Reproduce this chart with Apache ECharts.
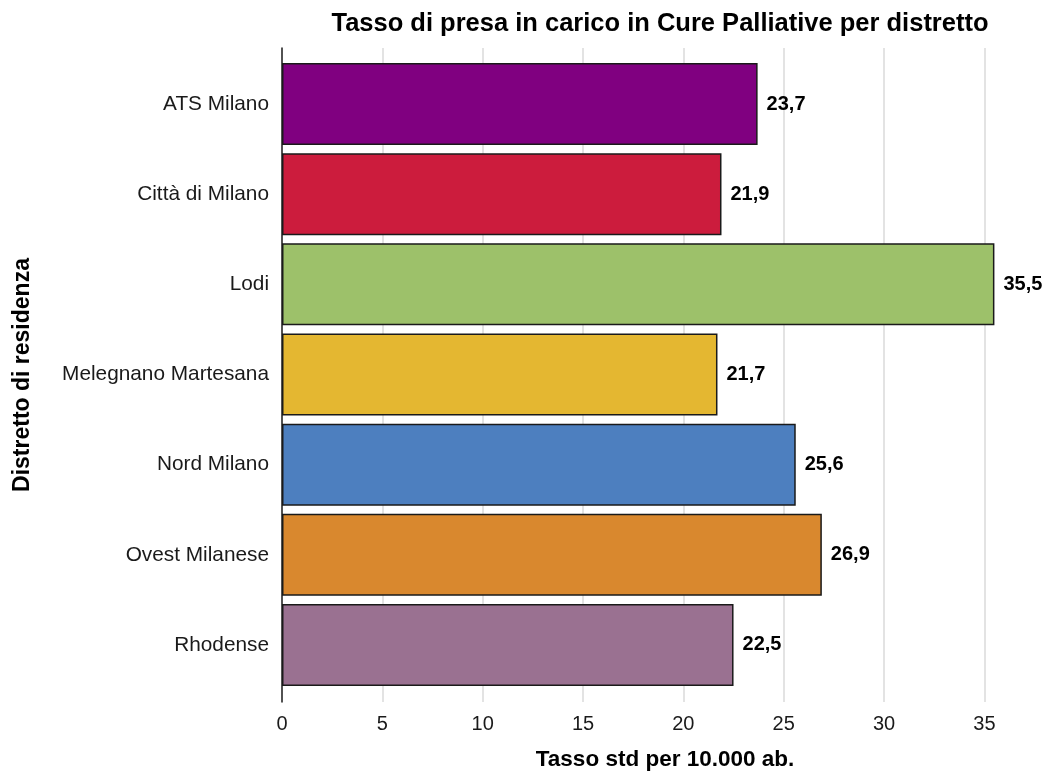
<!DOCTYPE html>
<html>
<head>
<meta charset="utf-8">
<script src="https://cdn.jsdelivr.net/npm/echarts@6/dist/echarts.min.js"></script>
<style>
  html, body { margin: 0; padding: 0; background: #fff; }
  #chart { width: 1046px; height: 774px; }
</style>
</head>
<body>
<div id="chart"></div>
<script>
// Districts, top to bottom
const districts = ['ATS Milano', 'Città di Milano', 'Lodi', 'Melegnano Martesana', 'Nord Milano', 'Ovest Milanese', 'Rhodense'];
// Standardised rate per 10,000 inhabitants
const rates = [23.7, 21.9, 35.5, 21.7, 25.6, 26.9, 22.5];
const barColors = ['#800080', '#cc1c3d', '#9dc16a', '#e4b731', '#4d7fbf', '#d9882e', '#9a7191'];
const xTicks = [0, 5, 10, 15, 20, 25, 30, 35];

const FONT = '"Liberation Sans", Arial, sans-serif';
// value axis runs a little past the right edge of the page
const X_MAX = 38.17;

const chart = echarts.init(document.getElementById('chart'), null, { renderer: 'canvas' });

chart.setOption({
  backgroundColor: '#ffffff',
  animation: false,
  textStyle: { fontFamily: FONT },
  graphic: [{
    type: 'text',
    x: 660,
    y: 24,
    style: {
      text: 'Tasso di presa in carico in Cure Palliative per distretto',
      fontFamily: FONT,
      fontSize: 25.5,
      fontWeight: 'bold',
      fill: '#000',
      textAlign: 'center',
      textVerticalAlign: 'middle'
    }
  }],
  grid: [
    // backdrop: gridlines, value labels, axis names
    { left: 282, right: -2, top: 48, bottom: 72, containLabel: false, outerBoundsMode: 'none' },
    // bars and district labels
    { left: 282, right: -2, top: 59, bottom: 84, containLabel: false, outerBoundsMode: 'none' }
  ],
  xAxis: [
    {
      gridIndex: 0,
      type: 'value',
      min: 0,
      max: X_MAX,
      interval: 5,
      axisLine: { show: false },
      axisTick: { show: false },
      axisLabel: {
        margin: 12,
        fontSize: 20,
        color: '#1a1a1a',
        fontFamily: FONT,
        showMaxLabel: false,
        formatter: v => (xTicks.indexOf(v) >= 0 ? String(v) : '')
      },
      splitLine: { show: true, lineStyle: { color: '#e3e3e3', width: 2 } },
      name: 'Tasso std per 10.000 ab.',
      nameLocation: 'middle',
      nameGap: 46,
      nameTextStyle: { fontSize: 22.5, fontWeight: 'bold', color: '#000', fontFamily: FONT }
    },
    {
      gridIndex: 1,
      type: 'value',
      min: 0,
      max: X_MAX,
      interval: 5,
      show: false
    }
  ],
  yAxis: [
    {
      gridIndex: 0,
      type: 'value',
      min: 0,
      max: 1,
      axisLine: { show: true, lineStyle: { color: '#222', width: 1.5 } },
      axisTick: { show: false },
      axisLabel: { show: false },
      splitLine: { show: false },
      name: 'Distretto di residenza',
      nameLocation: 'middle',
      nameRotate: 90,
      nameGap: 248,
      nameTextStyle: { fontSize: 23, fontWeight: 'bold', color: '#000', fontFamily: FONT }
    },
    {
      gridIndex: 1,
      type: 'category',
      inverse: true,
      data: districts,
      axisLine: { show: false },
      axisTick: { show: false },
      axisLabel: { margin: 13, fontSize: 20.8, color: '#1a1a1a', fontFamily: FONT },
      splitLine: { show: false }
    }
  ],
  series: [{
    type: 'bar',
    xAxisIndex: 1,
    yAxisIndex: 1,
    barCategoryGap: '9%',
    data: rates.map((v, i) => ({ value: v, itemStyle: { color: barColors[i] } })),
    itemStyle: { borderColor: '#1a1a1a', borderWidth: 1.5 },
    label: {
      show: true,
      position: 'right',
      distance: 9,
      fontSize: 20,
      fontWeight: 'bold',
      color: '#000',
      fontFamily: FONT,
      formatter: p => p.value.toFixed(1).replace('.', ',')
    }
  }]
});
</script>
</body>
</html>
